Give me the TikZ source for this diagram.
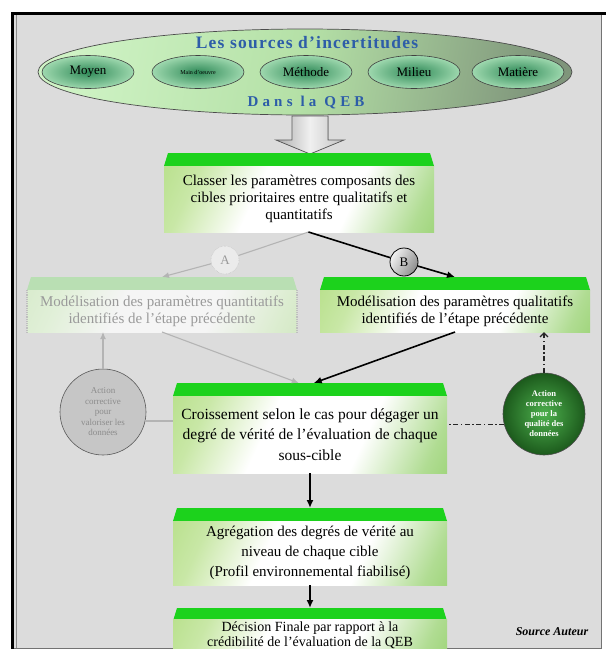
\documentclass[tikz,border=0pt]{standalone}
\usepackage{fontspec}
\setmainfont{Liberation Serif}
\newfontfamily\titlefont[LetterSpace=7]{Liberation Serif}
\newfontfamily\qebfont[LetterSpace=28]{Liberation Serif}
\usetikzlibrary{shapes.geometric,arrows.meta,calc}
\definecolor{bgc}{HTML}{DCDCDC}
\definecolor{bandgreen}{HTML}{1CD21C}
\definecolor{bodyL}{HTML}{9CD45E}
\definecolor{bodyR}{HTML}{70C03A}
\definecolor{fadeband}{HTML}{B9DFB3}
\definecolor{fadeL}{HTML}{C8E3B8}
\definecolor{fadeR}{HTML}{BEDDA8}
\definecolor{titleblue}{HTML}{2D5DA8}
\definecolor{ellL}{HTML}{CFF3C5}
\definecolor{ellM}{HTML}{B4E0A6}
\definecolor{ellR}{HTML}{7F957B}
\definecolor{smIn}{HTML}{2F8A58}
\definecolor{smOut}{HTML}{9ED8AE}
\definecolor{lightline}{HTML}{B4B4B4}
\definecolor{fadetext}{HTML}{9A9A9A}
\definecolor{circgray}{HTML}{C6C6C6}
\definecolor{circtext}{HTML}{8C8C8C}
\definecolor{grnIn}{HTML}{4DB04D}
\definecolor{grnOut}{HTML}{1C5A1C}
\pgfdeclarehorizontalshading{boxshade}{100bp}{color(0bp)=(bodyL); color(25bp)=(bodyL!55!white); color(40bp)=(white); color(62bp)=(white); color(78bp)=(bodyR!55!white); color(100bp)=(bodyR)}
\pgfdeclarehorizontalshading{fadeshade}{100bp}{color(0bp)=(fadeL); color(25bp)=(fadeL!55!white); color(40bp)=(white!96!black); color(62bp)=(white!96!black); color(78bp)=(fadeR!55!white); color(100bp)=(fadeR)}
\newcommand\bandfill[2]{\fill[#2] (#1.south west) -- (#1.south east) -- ([xshift=-4pt]#1.north east) -- ([xshift=4pt]#1.north west) -- cycle;}
\begin{document}
\begin{tikzpicture}[x=1pt,y=-1pt,
  band/.style={rectangle, minimum height=13pt, inner sep=0pt, outer sep=0pt},
  boxbody/.style={rectangle, inner sep=2pt, outer sep=0pt, align=center,
    shading=boxshade, shading angle=-25,
    font=\fontsize{15}{17}\selectfont},
  fbody/.style={boxbody, shading=fadeshade, shading angle=-25, text=fadetext},
  bigell/.style={ellipse, draw=black!70, line width=0.7pt, left color=ellL,
    right color=ellR, middle color=ellM, shading angle=80, minimum width=534pt,
    minimum height=86pt, inner sep=0pt},
  smallell/.style={ellipse, draw=black!75, line width=0.6pt, inner color=smIn,
    outer color=smOut, minimum width=92pt, minimum height=33pt, inner sep=0pt,
    font=\fontsize{13}{14}\selectfont},
  blackarr/.style={draw=black, line width=1.6pt, -{Latex[length=8pt,width=7pt]}},
  grayarr/.style={draw=lightline, line width=1.1pt, -{Latex[length=7pt,width=6pt]}},
  grayln/.style={draw=lightline, line width=1.1pt},
  dashdot/.style={draw=black!85, line width=1.4pt,
    dash pattern=on 5pt off 2.5pt on 1.5pt off 2.5pt},
  smalltxt/.style={align=center, font=\fontsize{9}{10.5}\selectfont}
]
\useasboundingbox (0,0) rectangle (606,649);
% frame
\fill[white] (0,0) rectangle (606,649);
\fill[bgc] (12,13) rectangle (602,649);
\draw[black, line width=3pt] (12.5,650) -- (12.5,13.5) -- (606,13.5);
\draw[black!55, line width=0.8pt] (601.5,15) -- (601.5,648.5) -- (14,648.5);
\draw[black!45, line width=0.6pt] (16.5,15) -- (16.5,648);

% sources ellipse
\node[bigell] (src) at (305,72) {};
\node[text=titleblue, font=\titlefont\bfseries\fontsize{17.5}{19}\selectfont] (ttl) at (307,43) {Les sources d’incertitudes};
\node[text=titleblue, font=\qebfont\bfseries\fontsize{15}{16}\selectfont] (qeb) at (306,103) {Dans la QEB};
\node[smallell] (e1) at (88,72) {Moyen};
\node[smallell, font=\fontsize{6}{7}\selectfont] (e2) at (198,72) {Main d’oeuvre};
\node[smallell] (e3) at (306,72) {Méthode};
\node[smallell] (e4) at (414,72) {Milieu};
\node[smallell] (e5) at (518,72) {Matière};

% block arrow
\filldraw[draw=black!65, line width=0.7pt, left color=black!32, right color=black!24,
  middle color=white!94!black]
  (292,116) -- (328,116) -- (328,140) -- (344,140) -- (310,154) -- (276,140) -- (292,140) -- cycle;

% box 1
\node[band, minimum width=270pt] (t1) at (299,159.5) {};
\bandfill{t1}{bandgreen}
\node[boxbody, minimum width=270pt, minimum height=66pt] (b1) at (299,199)
  {Classer les paramètres composants des\\cibles prioritaires entre qualitatifs et\\quantitatifs};

% box A (faded) and box B
\node[band, minimum width=270pt] (tA) at (162,283.5) {};
\bandfill{tA}{fadeband}
\node[fbody, minimum width=270pt, minimum height=42pt] (bA) at (162,311)
  {Modélisation des paramètres quantitatifs\\identifiés de l’étape précédente};
\draw[black!25, densely dotted, line width=1.2pt] (bA.north west) -- (bA.south west);
\draw[black!25, densely dotted, line width=1.2pt] (bA.north east) -- (bA.south east);
\node[band, minimum width=270pt] (tB) at (455,283.5) {};
\bandfill{tB}{bandgreen}
\node[boxbody, minimum width=270pt, minimum height=42pt] (bB) at (455,311)
  {Modélisation des paramètres qualitatifs\\identifiés de l’étape précédente};

% box C, D, E
\node[band, minimum width=274pt] (tC) at (310,389.5) {};
\bandfill{tC}{bandgreen}
\node[boxbody, minimum width=274pt, minimum height=77pt, font=\fontsize{15.5}{20.5}\selectfont] (bC) at (310,434.5)
  {Croissement selon le cas pour dégager un\\degré de vérité de l’évaluation de chaque\\sous-cible};
\node[band, minimum width=274pt] (tD) at (310,514.5) {};
\bandfill{tD}{bandgreen}
\node[boxbody, minimum width=274pt, minimum height=64pt, font=\fontsize{15}{20}\selectfont] (bD) at (310,553)
  {Agrégation des degrés de vérité au\\niveau de chaque cible\\(Profil environnemental fiabilisé)};
\node[band, minimum width=274pt] (tE) at (310,614.5) {};
\bandfill{tE}{bandgreen}
\node[boxbody, minimum width=274pt, minimum height=28pt, font=\fontsize{14}{15}\selectfont] (bE) at (310,635)
  {Décision Finale par rapport à la\\crédibilité de l’évaluation de la QEB};

% A / B circles
\node[circle, minimum size=28pt, inner sep=0pt, fill=white!92!black, draw=black!30, densely dotted,
  text=fadetext, font=\fontsize{13}{14}\selectfont] (cA) at (225,260) {A};
\node[circle, minimum size=28pt, inner sep=0pt, left color=white!95!black, right color=black!45,
  shading angle=60, draw=black, line width=0.8pt, font=\fontsize{13}{14}\selectfont] (cB) at (404,262) {B};

% action circles
\node[circle, minimum size=86pt, inner sep=0pt, fill=circgray, draw=black!65, line width=0.6pt,
  text=circtext, smalltxt] (gc) at (103,412) {Action\\corrective\\pour\\valoriser les\\données};
\node[circle, minimum size=82pt, inner sep=0pt, inner color=grnIn, outer color=grnOut,
  draw=black!70, line width=0.6pt, text=white, smalltxt, font=\bfseries\fontsize{8.5}{10}\selectfont]
  (gC) at (544,414) {Action\\corrective\\pour la\\qualité des\\données};

% connectors
\draw[grayln] (b1.-74) -- (cA);
\draw[grayarr] (cA) -- (tA.north);
\draw[draw=black, line width=1.6pt] (b1.-74) -- (cB);
\draw[blackarr] (cB) -- (tB.north);
\draw[grayarr] (bA.south) -- (tC.150);
\draw[blackarr] (bB.south) -- (tC.60);
\draw[grayarr] (gc.north) -- (gc.north |- bA.south);
\draw[grayln] (gc.-12) -- (gc.-12 -| bC.west);
\draw[dashdot] (gC.195) -- (gC.195 -| bC.east);
\draw[dashdot, -{Straight Barb[length=4pt,width=8pt]}] (gC.north) -- (gC.north |- bB.south);
\draw[blackarr] (bC.south) -- (tD.north);
\draw[blackarr] (bD.south) -- (tE.north);

\node[font=\bfseries\itshape\fontsize{12}{14}\selectfont] (srcaut) at (552,632) {Source Auteur};
\end{tikzpicture}
\end{document}
